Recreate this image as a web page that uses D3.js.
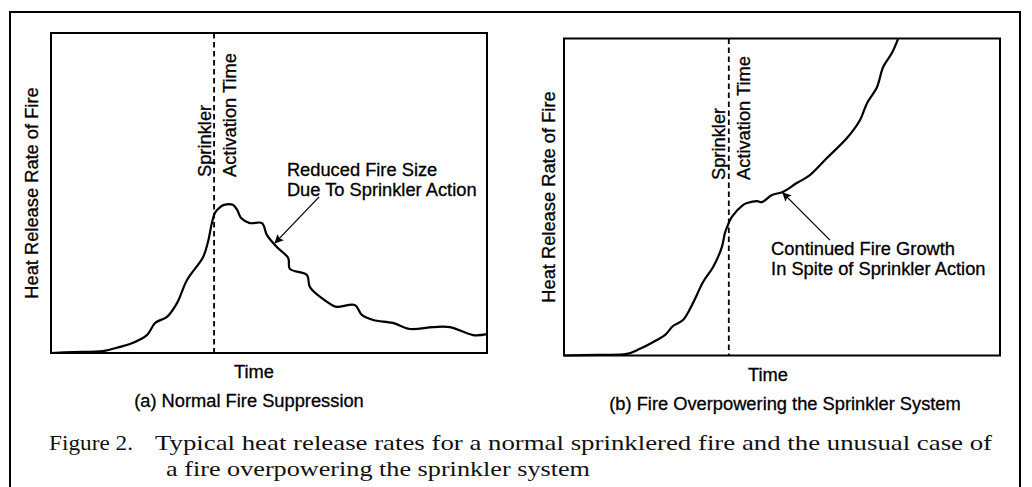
<!DOCTYPE html>
<html lang="en">
<head>
  <meta charset="UTF-8">
  <title>Typical heat release rates</title>
  <script src="https://d3js.org/d3.v7.min.js"></script>
  <style>
    body { margin: 0; background: #fff; }
    svg { display: block; }
    .sans { font-family: "Liberation Sans", Arial, sans-serif; font-size: 18.3px; fill: #000; stroke: #000; stroke-width: 0.3px; }
    .serif { font-family: "Liberation Serif", "Times New Roman", serif; font-size: 21px; fill: #111; }
  </style>
</head>
<body>
  <div id="chart"></div>
  <script>
    // panel (a): normal fire suppression, time and HRR in % of axis
    const timeA = [0, 5.0, 11.9, 15.8, 18.1, 22.0, 23.9, 26.6, 28.9, 31.2, 34.9, 36.0, 36.9, 37.6, 38.8, 39.7, 41.7, 42.7, 43.6, 45.6, 48.4, 49.5, 51.8, 54.4, 54.8, 58.7, 59.4, 64.4, 65.6, 69.7, 71.3, 73.9, 78.4, 82.3, 87.6, 91.5, 96.8, 100];
    const hrrA  = [0, 0.3, 0.6, 1.9, 2.8, 5.6, 9.4, 11.3, 15.6, 22.8, 30.0, 34.7, 40.6, 43.8, 45.6, 46.3, 46.3, 44.7, 42.2, 40.6, 40.6, 36.9, 33.1, 29.7, 26.3, 24.4, 20.6, 15.0, 14.4, 15.0, 11.9, 10.3, 9.4, 7.5, 8.1, 8.1, 5.6, 5.9];

    // panel (b): fire overpowering the sprinkler system
    const timeB = [0, 7.6, 14.4, 17.4, 21.3, 23.2, 25.0, 27.3, 29.6, 31.9, 34.2, 36.2, 36.9, 37.4, 38.5, 41.1, 42.0, 44.3, 45.4, 47.7, 50.2, 53.4, 56.4, 60.3, 64.9, 67.9, 69.5, 71.8, 73.2, 75.2, 76.6];
    const hrrB  = [0, 0.2, 0.5, 2.1, 4.9, 6.5, 9.3, 11.2, 16.6, 23.2, 27.9, 34.2, 38.6, 40.5, 43.7, 47.5, 48.1, 48.7, 48.4, 50.6, 51.6, 54.4, 56.9, 62.3, 68.6, 74.3, 79.6, 84.7, 91.0, 95.4, 99.8];

    const activationTime = [37.4, 37.8];
    const panelTitles = ['(a) Normal Fire Suppression', '(b) Fire Overpowering the Sprinkler System'];
    const annotationLines = [
      ['Reduced Fire Size', 'Due To Sprinkler Action'],
      ['Continued Fire Growth', 'In Spite of Sprinkler Action']
    ];
    // arrow tail / tip in data units
    const arrowFrom = [[61.5, 48.8], [61.0, 36.4]];
    const arrowTo   = [[51.4, 34.4], [50.2, 51.3]];
    const textAt    = [[54.1, 55.3], [47.5, 31.7]];
    const captionLabel = 'Figure 2.';
    const captionLines = [
      'Typical heat release rates for a normal sprinklered fire and the unusual case of',
      'a fire overpowering the sprinkler system'
    ];

    const W = 1032, H = 487;
    const svg = d3.select('#chart').append('svg')
      .attr('width', W).attr('height', H);

    svg.append('defs').append('marker')
      .attr('id', 'head')
      .attr('viewBox', '0 0 10 10')
      .attr('refX', 9).attr('refY', 5)
      .attr('markerWidth', 12).attr('markerHeight', 9)
      .attr('markerUnits', 'userSpaceOnUse')
      .attr('orient', 'auto')
      .append('path').attr('d', 'M0,0 L10,5 L0,10 L2,5 Z').attr('fill', '#000');

    // outer frame
    svg.append('rect')
      .attr('x', 10).attr('y', 12)
      .attr('width', 1010).attr('height', 500)
      .attr('fill', 'none').attr('stroke', '#000').attr('stroke-width', 2);

    const panels = [
      { left: 51, right: 487, top: 33, bottom: 353, t: timeA, h: hrrA, yLab: 38, timeX: 254, timeY: 378, titleX: 249, titleY: 407, rotTop: 177 },
      { left: 564, right: 1000, top: 38.5, bottom: 355.5, t: timeB, h: hrrB, yLab: 555, timeX: 768, timeY: 381, titleX: 785, titleY: 410, rotTop: 180 }
    ];

    panels.forEach((p, i) => {
      const x = d3.scaleLinear().domain([0, 100]).range([p.left, p.right]);
      const y = d3.scaleLinear().domain([0, 100]).range([p.bottom, p.top]);
      const g = svg.append('g');

      g.append('rect')
        .attr('x', x(0)).attr('y', y(100))
        .attr('width', x(100) - x(0)).attr('height', y(0) - y(100))
        .attr('fill', 'none').attr('stroke', '#000').attr('stroke-width', 2);

      // sprinkler activation line
      const xa = x(activationTime[i]);
      g.append('line')
        .attr('x1', xa).attr('x2', xa)
        .attr('y1', y(100)).attr('y2', y(0))
        .attr('stroke', '#000').attr('stroke-width', 1.8)
        .attr('stroke-dasharray', '5.5,3.5');

      g.append('text').attr('class', 'sans')
        .attr('transform', `translate(${xa - 3.5},${p.rotTop}) rotate(-90)`)
        .text('Sprinkler');
      g.append('text').attr('class', 'sans')
        .attr('transform', `translate(${xa + 21.5},${p.rotTop}) rotate(-90)`)
        .text('Activation Time');

      // curve
      const pts = p.t.map((t, k) => [t, p.h[k]]);
      g.append('path')
        .datum(pts)
        .attr('fill', 'none').attr('stroke', '#000').attr('stroke-width', 2.2)
        .attr('stroke-linejoin', 'round')
        .attr('d', d3.line().x(d => x(d[0])).y(d => y(d[1])).curve(d3.curveCatmullRom.alpha(0.5)));

      // annotation
      g.append('line')
        .attr('x1', x(arrowFrom[i][0])).attr('y1', y(arrowFrom[i][1]))
        .attr('x2', x(arrowTo[i][0])).attr('y2', y(arrowTo[i][1]))
        .attr('stroke', '#000').attr('stroke-width', 1.3)
        .attr('marker-end', 'url(#head)');
      annotationLines[i].forEach((s, k) => {
        g.append('text').attr('class', 'sans')
          .attr('x', x(textAt[i][0])).attr('y', y(textAt[i][1]) + k * 20)
          .text(s);
      });

      // axis labels
      g.append('text').attr('class', 'sans')
        .attr('transform', `translate(${p.yLab},${(p.top + p.bottom) / 2}) rotate(-90)`)
        .attr('text-anchor', 'middle')
        .text('Heat Release Rate of Fire');
      g.append('text').attr('class', 'sans')
        .attr('x', p.timeX).attr('y', p.timeY)
        .attr('text-anchor', 'middle')
        .text('Time');
      g.append('text').attr('class', 'sans')
        .attr('x', p.titleX).attr('y', p.titleY)
        .attr('text-anchor', 'middle')
        .text(panelTitles[i]);
    });

    // figure caption
    svg.append('text').attr('class', 'serif')
      .attr('x', 49).attr('y', 450)
      .attr('textLength', 84).attr('lengthAdjust', 'spacingAndGlyphs')
      .text(captionLabel);
    svg.append('text').attr('class', 'serif')
      .attr('x', 155).attr('y', 450)
      .attr('textLength', 837).attr('lengthAdjust', 'spacingAndGlyphs')
      .text(captionLines[0]);
    svg.append('text').attr('class', 'serif')
      .attr('x', 166).attr('y', 476)
      .attr('textLength', 424).attr('lengthAdjust', 'spacingAndGlyphs')
      .text(captionLines[1]);
  </script>
</body>
</html>
